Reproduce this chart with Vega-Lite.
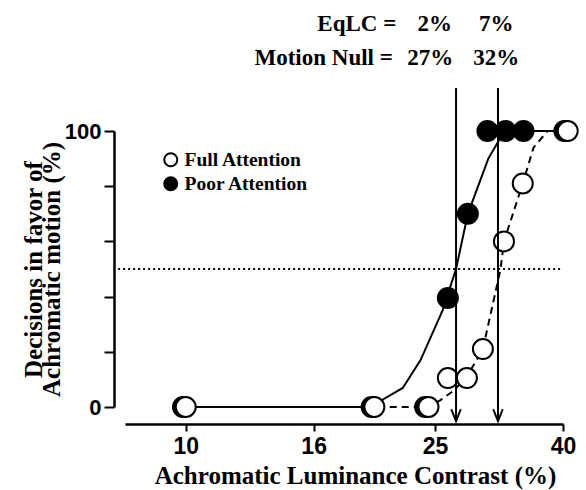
{
  "$schema": "https://vega.github.io/schema/vega-lite/v6.json",
  "width": 438,
  "height": 276,
  "autosize": "none",
  "padding": {"left": 125, "top": 131, "right": 23, "bottom": 83},
  "background": "white",
  "config": {"view": {"stroke": null}},
  "datasets": {
    "pts": [
      {"series": "Poor Attention", "x": 9.9, "y": 0},
      {"series": "Poor Attention", "x": 19.8, "y": 0},
      {"series": "Poor Attention", "x": 24.1, "y": 0},
      {"series": "Poor Attention", "x": 26.2, "y": 39.5},
      {"series": "Poor Attention", "x": 28.2, "y": 70},
      {"series": "Poor Attention", "x": 30.3, "y": 100},
      {"series": "Poor Attention", "x": 32.4, "y": 100},
      {"series": "Poor Attention", "x": 34.6, "y": 100},
      {"series": "Poor Attention", "x": 40.2, "y": 100},
      {"series": "Full Attention", "x": 10, "y": 0},
      {"series": "Full Attention", "x": 20, "y": 0},
      {"series": "Full Attention", "x": 24.4, "y": 0},
      {"series": "Full Attention", "x": 26.2, "y": 10.5},
      {"series": "Full Attention", "x": 28.1, "y": 10.5},
      {"series": "Full Attention", "x": 29.8, "y": 21},
      {"series": "Full Attention", "x": 32.2, "y": 60},
      {"series": "Full Attention", "x": 34.5, "y": 81},
      {"series": "Full Attention", "x": 40.7, "y": 100}
    ],
    "fit": [
      {"series": "Poor Attention", "x": 10, "y": 0},
      {"series": "Poor Attention", "x": 20, "y": 0},
      {"series": "Poor Attention", "x": 20.7, "y": 2.9},
      {"series": "Poor Attention", "x": 22.2, "y": 6.9},
      {"series": "Poor Attention", "x": 23.7, "y": 17},
      {"series": "Poor Attention", "x": 25.7, "y": 35},
      {"series": "Poor Attention", "x": 27.0, "y": 50},
      {"series": "Poor Attention", "x": 28.2, "y": 70},
      {"series": "Poor Attention", "x": 30.4, "y": 90},
      {"series": "Poor Attention", "x": 31.5, "y": 96},
      {"series": "Poor Attention", "x": 32.4, "y": 100},
      {"series": "Poor Attention", "x": 40.2, "y": 100},
      {"series": "Full Attention", "x": 10, "y": 0},
      {"series": "Full Attention", "x": 20, "y": 0},
      {"series": "Full Attention", "x": 24.4, "y": 0},
      {"series": "Full Attention", "x": 25.5, "y": 2.5},
      {"series": "Full Attention", "x": 26.8, "y": 6},
      {"series": "Full Attention", "x": 28.1, "y": 11},
      {"series": "Full Attention", "x": 29.8, "y": 21},
      {"series": "Full Attention", "x": 31.8, "y": 50},
      {"series": "Full Attention", "x": 32.2, "y": 60},
      {"series": "Full Attention", "x": 34.5, "y": 81},
      {"series": "Full Attention", "x": 35.9, "y": 94},
      {"series": "Full Attention", "x": 37.8, "y": 100},
      {"series": "Full Attention", "x": 40.7, "y": 100}
    ],
    "ref": [{"x": 7.8, "x2": 39.7, "y": 50}],
    "arrows": [
      {"x": 27.0, "ytop": 115.6, "ybot": -5.1},
      {"x": 31.5, "ytop": 115.6, "ybot": -5.1}
    ],
    "notes": [
      {"text": "EqLC =", "x": 18.75, "y": 136.2},
      {"text": "2%", "x": 24.97, "y": 136.2},
      {"text": "7%", "x": 31.3, "y": 136.2},
      {"text": "Motion Null =", "x": 16.6, "y": 123.9},
      {"text": "27%", "x": 24.56, "y": 123.9},
      {"text": "32%", "x": 31.3, "y": 123.9}
    ]
  },
  "layer": [
    {
      "data": {"name": "ref"},
      "mark": {"type": "rule", "stroke": "black", "strokeWidth": 2, "strokeDash": [2, 3]},
      "encoding": {
        "x": {"field": "x", "type": "quantitative", "scale": {"type": "log", "domain": [8, 40], "nice": false},
          "axis": {
            "values": [10, 16, 25, 40],
            "format": "d",
            "offset": 17,
            "tickSize": 7,
            "tickWidth": 2,
            "domainWidth": 2.5,
            "domainColor": "black",
            "tickColor": "black",
            "labelFont": "Liberation Sans",
            "labelFontWeight": "bold",
            "labelFontSize": 23,
            "labelColor": "black",
            "labelPadding": 4,
            "labelFlush": false,
            "grid": false,
            "title": "Achromatic Luminance Contrast (%)",
            "titleFont": "Liberation Serif",
            "titleFontWeight": "bold",
            "titleFontSize": 25,
            "titleColor": "black",
            "titlePadding": 5,
            "titleX": 230
          }},
        "x2": {"field": "x2"},
        "y": {"field": "y", "type": "quantitative", "scale": {"domain": [0, 100], "nice": false},
          "axis": {
            "values": [0, 10, 20, 30, 40, 50, 60, 70, 80, 90, 100],
            "labelExpr": "datum.value % 50 === 0 ? datum.label : ''",
            "offset": 11,
            "tickSize": 10,
            "tickWidth": 2,
            "domainWidth": 2.5,
            "domainColor": "black",
            "tickColor": "black",
            "labelFont": "Liberation Sans",
            "labelFontWeight": "bold",
            "labelFontSize": 22,
            "labelColor": "black",
            "labelPadding": 3,
            "labelFlush": false,
            "grid": false,
            "title": ["Decisions in favor of", "Achromatic motion (%)"],
            "titleFont": "Liberation Serif",
            "titleFontWeight": "bold",
            "titleFontSize": 25,
            "titleLineHeight": 18,
            "titleColor": "black",
            "titlePadding": 0
          }}
      }
    },
    {
      "data": {"name": "fit"},
      "transform": [{"filter": "datum.series === 'Poor Attention'"}],
      "mark": {"type": "line", "stroke": "black", "strokeWidth": 2},
      "encoding": {
        "x": {"field": "x", "type": "quantitative"},
        "y": {"field": "y", "type": "quantitative"}
      }
    },
    {
      "data": {"name": "fit"},
      "transform": [{"filter": "datum.series === 'Full Attention'"}],
      "mark": {"type": "line", "stroke": "black", "strokeWidth": 2, "strokeDash": [7, 5]},
      "encoding": {
        "x": {"field": "x", "type": "quantitative"},
        "y": {"field": "y", "type": "quantitative"}
      }
    },
    {
      "data": {"name": "pts"},
      "mark": {"type": "point", "filled": true, "shape": "circle", "size": 400, "stroke": "black", "strokeWidth": 2, "opacity": 1},
      "encoding": {
        "x": {"field": "x", "type": "quantitative"},
        "y": {"field": "y", "type": "quantitative"},
        "fill": {"field": "series", "type": "nominal",
          "scale": {"domain": ["Full Attention", "Poor Attention"], "range": ["white", "black"]},
          "legend": {
            "title": null,
            "orient": "none",
            "legendX": 36,
            "legendY": 19,
            "padding": 0,
            "symbolType": "circle",
            "symbolSize": 169,
            "symbolFillColor": "white",
            "symbolStrokeColor": "black",
            "symbolStrokeWidth": 2,
            "labelFont": "Liberation Serif",
            "labelFontWeight": "bold",
            "labelFontSize": 19.5,
            "labelColor": "black",
            "labelOffset": 4,
            "rowPadding": 2
          }}
      }
    },
    {
      "data": {"name": "arrows"},
      "mark": {"type": "rule", "stroke": "black", "strokeWidth": 2},
      "encoding": {
        "x": {"field": "x", "type": "quantitative"},
        "y": {"field": "ytop", "type": "quantitative"},
        "y2": {"field": "ybot"}
      }
    },
    {
      "data": {"name": "arrows"},
      "mark": {"type": "point", "shape": "M-0.8,-2L0,0L0.8,-2", "filled": false, "size": 144, "stroke": "black", "strokeWidth": 2, "opacity": 1},
      "encoding": {
        "x": {"field": "x", "type": "quantitative"},
        "y": {"field": "ybot", "type": "quantitative"}
      }
    },
    {
      "data": {"name": "notes"},
      "mark": {"type": "text", "font": "Liberation Serif", "fontWeight": "bold", "fontSize": 23, "align": "center", "baseline": "alphabetic", "color": "black"},
      "encoding": {
        "x": {"field": "x", "type": "quantitative"},
        "y": {"field": "y", "type": "quantitative"},
        "text": {"field": "text"}
      }
    }
  ]
}
